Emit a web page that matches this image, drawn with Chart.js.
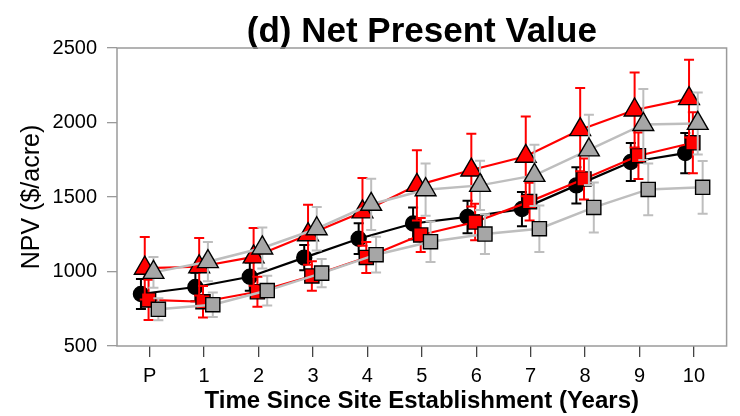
<!DOCTYPE html>
<html>
<head>
<meta charset="utf-8">
<script src="https://cdn.jsdelivr.net/npm/chart.js@4"></script>
<style>
  html, body { margin: 0; padding: 0; background: #ffffff; }
  #wrap { width: 740px; height: 416px; }
</style>
</head>
<body>
<div id="wrap"><canvas id="c" width="740" height="416"></canvas></div>
<script>
// ---- data ----
const categories = ['P', '1', '2', '3', '4', '5', '6', '7', '8', '9', '10'];

const blackCircleMean = [849, 896, 965, 1093, 1220, 1322, 1366, 1419, 1578, 1735, 1795];
const blackCircleErr  = [100, 95, 95, 85, 103, 107, 109, 115, 121, 127, 135];

const redSquareMean = [809, 797, 864, 970, 1094, 1245, 1332, 1469, 1621, 1777, 1864];
const redSquareErr  = [135, 105, 100, 99, 104, 114, 123, 126, 138, 156, 205];

const graySquareMean = [746, 777, 872, 989, 1113, 1200, 1251, 1287, 1430, 1551, 1565];
const graySquareErr  = [74, 82, 100, 95, 120, 136, 134, 156, 168, 174, 177];

const redTriangleMean = [1022, 1032, 1098, 1247, 1400, 1578, 1681, 1773, 1952, 2084, 2160];
const redTriangleErr  = [210, 193, 194, 201, 228, 235, 244, 268, 280, 252, 261];

const grayTriangleMean = [994, 1066, 1158, 1287, 1451, 1549, 1578, 1645, 1816, 1987, 1994];
const grayTriangleErr  = [103, 132, 138, 146, 172, 175, 166, 206, 236, 238, 208];

const yTicks = [500, 1000, 1500, 2000, 2500];

// ---- styling ----
const RED = '#ff0000';
const GRAY_FILL = '#a6a6a6';
const GRAY_LINE = '#bebebe';
const FONT = "'Liberation Sans', Arial, Helvetica, sans-serif";

function makeSeries(label, means, errs, dodge, style) {
  return Object.assign({
    label: label,
    data: means.map((v, i) => ({ x: i + dodge, y: v })),
    errors: errs,
    borderWidth: 2.2,
    pointBorderColor: '#000000',
    pointBorderWidth: 1.4,
    tension: 0,
    clip: false
  }, style);
}

const datasets = [
  makeSeries('Black circle', blackCircleMean, blackCircleErr, -0.16, {
    borderColor: '#000000', backgroundColor: '#000000', pointBackgroundColor: '#000000',
    pointStyle: 'circle', pointRadius: 7.5, errColor: '#000000', order: 5
  }),
  makeSeries('Red square', redSquareMean, redSquareErr, -0.02, {
    borderColor: RED, backgroundColor: RED, pointBackgroundColor: RED,
    pointStyle: 'rect', pointRadius: 10, errColor: RED, order: 4
  }),
  makeSeries('Gray square', graySquareMean, graySquareErr, 0.16, {
    borderColor: GRAY_LINE, backgroundColor: GRAY_FILL, pointBackgroundColor: GRAY_FILL,
    pointStyle: 'rect', pointRadius: 10, errColor: GRAY_LINE, borderWidth: 2.5, order: 3
  }),
  makeSeries('Red triangle', redTriangleMean, redTriangleErr, -0.09, {
    borderColor: RED, backgroundColor: RED, pointBackgroundColor: RED,
    pointStyle: 'triangle', pointRadius: 12, errColor: RED, order: 2
  }),
  makeSeries('Gray triangle', grayTriangleMean, grayTriangleErr, 0.07, {
    borderColor: GRAY_LINE, backgroundColor: GRAY_FILL, pointBackgroundColor: GRAY_FILL,
    pointStyle: 'triangle', pointRadius: 12, errColor: GRAY_LINE, borderWidth: 2.5, order: 1
  })
];

// error bars drawn through the y scale, just before each dataset
const errorBarPlugin = {
  id: 'errorBars',
  beforeDatasetDraw(chart, args) {
    const ds = chart.data.datasets[args.index];
    if (!ds.errors) return;
    const ctx = chart.ctx;
    const yScale = chart.scales.y;
    const cap = 5;
    ctx.save();
    ctx.strokeStyle = ds.errColor;
    ctx.lineWidth = 2;
    ctx.lineCap = 'butt';
    args.meta.data.forEach((pt, i) => {
      const v = ds.data[i].y;
      const e = ds.errors[i];
      const yt = yScale.getPixelForValue(v + e);
      const yb = yScale.getPixelForValue(v - e);
      const x = pt.x;
      ctx.beginPath();
      ctx.moveTo(x, yt); ctx.lineTo(x, yb);
      ctx.moveTo(x - cap, yt); ctx.lineTo(x + cap, yt);
      ctx.moveTo(x - cap, yb); ctx.lineTo(x + cap, yb);
      ctx.stroke();
    });
    ctx.restore();
  }
};

// gray plot frame around the chart area
const framePlugin = {
  id: 'frame',
  beforeDatasetsDraw(chart) {
    const a = chart.chartArea;
    const ctx = chart.ctx;
    ctx.save();
    ctx.strokeStyle = '#9a9a9a';
    ctx.lineWidth = 1.5;
    ctx.strokeRect(a.left, a.top, a.right - a.left, a.bottom - a.top);
    ctx.restore();
  }
};

new Chart(document.getElementById('c'), {
  type: 'line',
  data: { datasets: datasets },
  plugins: [errorBarPlugin, framePlugin],
  options: {
    responsive: false,
    animation: false,
    events: [],
    layout: { padding: { left: 0, right: 2, top: 0, bottom: 0 } },
    plugins: {
      legend: { display: false },
      tooltip: { enabled: false },
      title: {
        display: true,
        text: '(d) Net Present Value',
        fullSize: false,
        color: '#000000',
        font: { family: FONT, size: 35, weight: 'bold', lineHeight: 1 },
        padding: { top: 15, bottom: -2 }
      }
    },
    scales: {
      x: {
        type: 'linear',
        min: -0.6,
        max: 10.6,
        afterBuildTicks(scale) {
          scale.ticks = categories.map((c, i) => ({ value: i }));
        },
        afterFit(scale) { scale.height = 70; },
        ticks: {
          autoSkip: false,
          maxRotation: 0,
          color: '#000000',
          padding: 7,
          font: { family: FONT, size: 20 },
          callback: (v) => categories[v]
        },
        grid: {
          display: true, drawOnChartArea: false, drawTicks: true,
          tickLength: 11, color: '#444444', lineWidth: 1.3
        },
        border: { display: false },
        title: {
          display: true,
          text: 'Time Since Site Establishment (Years)',
          color: '#000000',
          font: { family: FONT, size: 24, weight: 'bold', lineHeight: 1 },
          padding: { top: 0, bottom: 3 }
        }
      },
      y: {
        type: 'linear',
        min: 500,
        max: 2500,
        afterBuildTicks(scale) {
          scale.ticks = yTicks.map(v => ({ value: v }));
        },
        afterFit(scale) { scale.width = 117; },
        ticks: {
          color: '#000000',
          padding: 10,
          font: { family: FONT, size: 20 },
          callback: (v) => String(v)
        },
        grid: {
          display: true, drawOnChartArea: false, drawTicks: true,
          tickLength: 10, color: '#9a9a9a', lineWidth: 1.3
        },
        border: { display: false },
        title: {
          display: true,
          text: 'NPV ($/acre)',
          color: '#000000',
          font: { family: FONT, size: 25, lineHeight: 1 },
          padding: { top: 20, bottom: 0 }
        }
      }
    }
  }
});
</script>
</body>
</html>
